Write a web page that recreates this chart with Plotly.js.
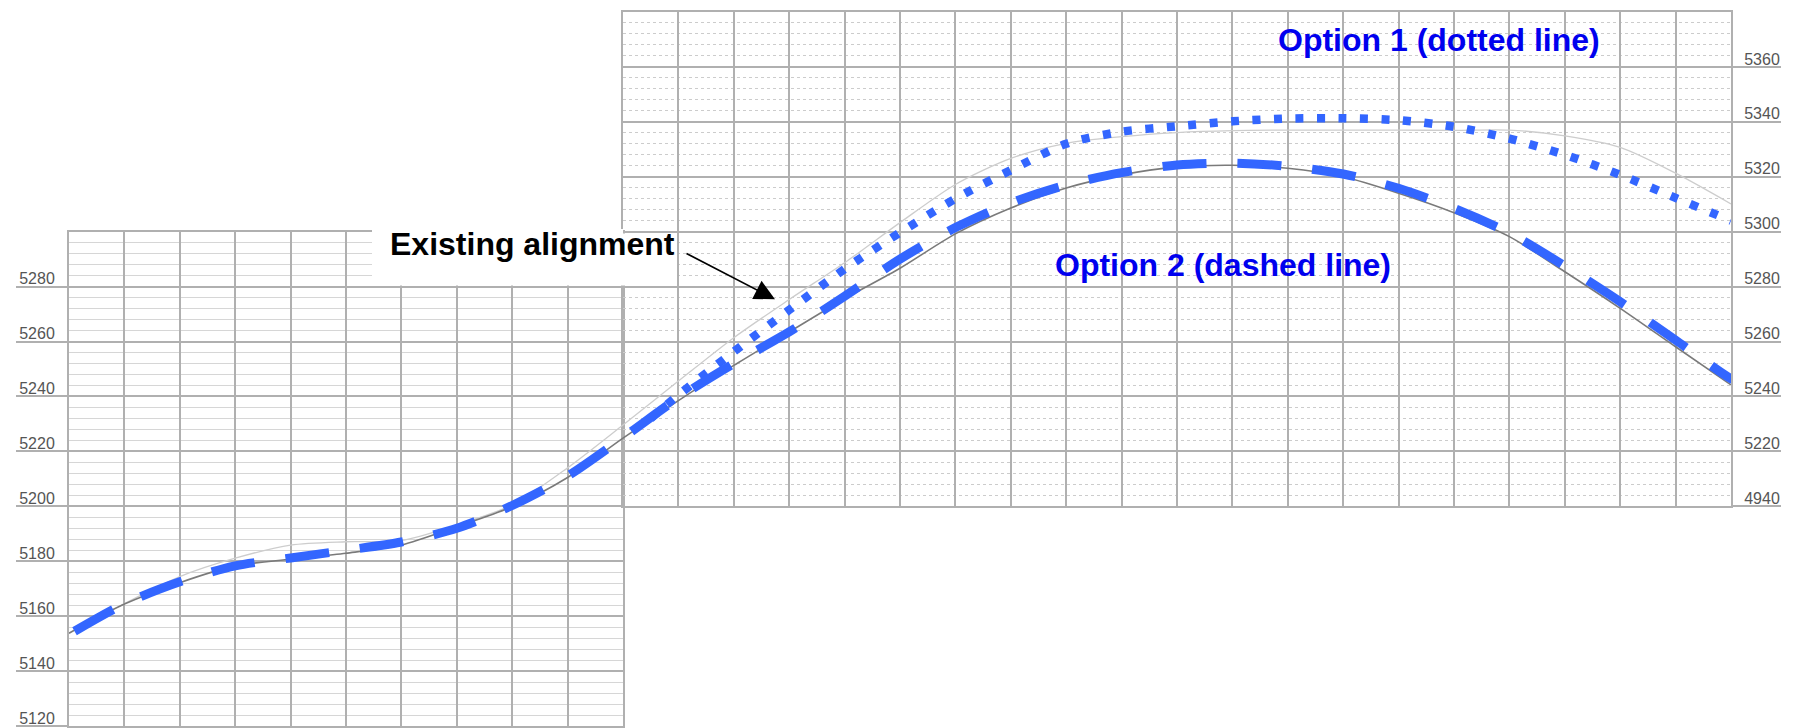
<!DOCTYPE html>
<html>
<head>
<meta charset="utf-8">
<script src="https://cdn.plot.ly/plotly-3.0.1.min.js"></script>
<style>
  html, body { margin: 0; padding: 0; background: #ffffff; }
  #chart { width: 1802px; height: 728px; }
</style>
</head>
<body>
<div id="chart"></div>
<script>
// ---- Data (station columns along the profile, elevations in feet) ----
var existingStations = [0,1,2,3,4,5,6,7,8,9,10,11,12,13,14,15,16,17,18,19,20,21,22,23,24,25,26,27,28,29,30];
var existingElev = [5153.8,5164.4,5172.2,5178.3,5180.7,5182.9,5185.9,5192.6,5199.9,5210.5,5224.8,5238.5,5251.3,5263.5,5275.6,5286.7,5299.2,5308.6,5315.9,5320.7,5323.5,5324.2,5323.1,5320,5314,5306.9,5298.2,5285.4,5272.1,5258.1,5244.2];

var groundStations = [0.9,2,3,4,5,6,7,8,9,10,11,12,13,14,15,16,17,18,19,20,21,22,23,24,25,26,27,28,29,30];
var groundElev = [5163.5,5174.4,5181.1,5185.9,5187.1,5187.5,5193.2,5200.5,5214,5229.6,5245.6,5261.4,5275.3,5288.7,5303.3,5317.2,5326.7,5332.2,5334.6,5336.1,5336.8,5337,5337,5337,5336.9,5337,5334.9,5330.7,5321.3,5310.1];

var option1Stations = [10.5,11,12,13,14,15,16,17,18,19,20,21,22,23,24,25,26,27,28,29,30];
var option1Elev = [5232,5240.5,5256.3,5271.5,5286.4,5299.7,5312,5322.4,5332,5336.4,5338.4,5340.2,5341.2,5341.3,5340.6,5338.2,5333.9,5328,5320.7,5312.3,5304];

var option2Stations = [0.1,1,2,3,4,5,6,7,8,9,10,11,12,13,14,15,16,17,18,19,20,21,22,23,24,25,26,27,28,29,30,30.15];
var option2Elev = [5154.5,5164.5,5172.5,5178.3,5181.2,5184,5187,5192,5200.3,5211,5225,5239.5,5252,5263.5,5276.5,5290,5301.5,5310.5,5317,5321.5,5324.3,5325,5323.8,5321,5315.8,5308.5,5299.5,5287.5,5274.5,5260.5,5246.5,5245.5];

var leftTickVals = [5120,5140,5160,5180,5200,5220,5240,5260,5280];
var leftTickText = ['5120','5140','5160','5180','5200','5220','5240','5260','5280'];
var rightTickVals = [5200,5220,5240,5260,5280,5300,5320,5340,5360];
var rightTickText = ['4940','5220','5240','5260','5280','5300','5320','5340','5360'];

var labelExisting = 'Existing alignment';
var labelOption1 = 'Option 1 (dotted line)';
var labelOption2 = 'Option 2 (dashed line)';

// ---- Layout helpers ----
var W = 1802, H = 728;
var M = {l: 69, r: 71, t: 12, b: 2};
var PW = W - M.l - M.r, PH = H - M.t - M.b;
function px(x) { return (x - M.l) / PW; }
function py(y) { return (H - M.b - y) / PH; }

var FONT = '"Liberation Sans", Arial, sans-serif';
var MAJOR = '#b0b0b0';
var MINOR = '#d6d6d6';

var traces = [
  // empty traces so that both grid sheets get drawn
  {x: [], y: [], xaxis: 'x', yaxis: 'y', type: 'scatter', mode: 'lines', hoverinfo: 'skip'},
  {x: [], y: [], xaxis: 'x2', yaxis: 'y2', type: 'scatter', mode: 'lines', hoverinfo: 'skip'},
  {x: groundStations, y: groundElev, xaxis: 'x3', yaxis: 'y3', mode: 'lines',
   line: {color: '#cdcdcd', width: 1.3, shape: 'spline', smoothing: 0.8}, hoverinfo: 'skip'},
  {x: existingStations, y: existingElev, xaxis: 'x3', yaxis: 'y3', mode: 'lines',
   line: {color: '#7a7a7a', width: 1.6, shape: 'spline', smoothing: 0.8}, hoverinfo: 'skip'},
  {x: option1Stations, y: option1Elev, xaxis: 'x3', yaxis: 'y3', mode: 'lines',
   line: {color: '#3366ff', width: 8.5, dash: '8px,13.5px', shape: 'spline', smoothing: 0.8}, hoverinfo: 'skip'},
  {x: option2Stations, y: option2Elev, xaxis: 'x3', yaxis: 'y3', mode: 'lines',
   line: {color: '#3366ff', width: 9, dash: '44px,31px', shape: 'spline', smoothing: 0.8}, hoverinfo: 'skip'}
];

var layout = {
  width: W, height: H,
  margin: M,
  paper_bgcolor: '#ffffff',
  plot_bgcolor: 'rgba(0,0,0,0)',
  showlegend: false,
  font: {family: FONT, color: '#555555', size: 16},
  // left sheet
  xaxis: {domain: [0, 1/3], range: [0, 10], anchor: 'y', tickmode: 'linear', tick0: 0, dtick: 1,
          showgrid: true, gridcolor: MAJOR, gridwidth: 2, showticklabels: false, ticks: '',
          zeroline: false, showline: true, mirror: true, linecolor: MAJOR, linewidth: 2, fixedrange: true},
  yaxis: {domain: [0, 180/260], range: [5120, 5300], anchor: 'x',
          tickmode: 'array', tickvals: leftTickVals, ticktext: leftTickText,
          showgrid: true, gridcolor: MAJOR, gridwidth: 2,
          ticks: 'outside', ticklen: 51, tickcolor: MAJOR, tickwidth: 2,
          ticklabelstandoff: -42, ticklabelshift: -8,
          tickfont: {family: FONT, size: 16, color: '#555555'},
          minor: {tickmode: 'linear', tick0: 5120, dtick: 4, showgrid: true, gridcolor: MINOR, gridwidth: 1, ticks: ''},
          zeroline: false, showline: true, mirror: true, linecolor: MAJOR, linewidth: 2, fixedrange: true},
  // right sheet
  xaxis2: {domain: [1/3, 1], range: [10, 30], anchor: 'y2', tickmode: 'linear', tick0: 10, dtick: 1,
           showgrid: true, gridcolor: MAJOR, gridwidth: 2, showticklabels: false, ticks: '',
           zeroline: false, showline: true, mirror: true, linecolor: MAJOR, linewidth: 2, fixedrange: true},
  yaxis2: {domain: [80/260, 1], range: [5200, 5380], anchor: 'x2', side: 'right',
           tickmode: 'array', tickvals: rightTickVals, ticktext: rightTickText,
           showgrid: true, gridcolor: MAJOR, gridwidth: 2,
           ticks: 'outside', ticklen: 48, tickcolor: MAJOR, tickwidth: 2,
           ticklabelstandoff: -40, ticklabelshift: -8,
           tickfont: {family: FONT, size: 16, color: '#555555'},
           minor: {tickmode: 'linear', tick0: 5200, dtick: 4, showgrid: true, gridcolor: '#cccccc', gridwidth: 1, griddash: 'dot', ticks: ''},
           zeroline: false, showline: true, mirror: true, linecolor: MAJOR, linewidth: 2, fixedrange: true},
  // overlay for the profile lines
  xaxis3: {domain: [0, 1], range: [0, 30], anchor: 'y3', visible: false, fixedrange: true},
  yaxis3: {domain: [0, 1], range: [5120, 5380], anchor: 'x3', visible: false, fixedrange: true},
  shapes: [
    {type: 'rect', xref: 'paper', yref: 'paper', x0: px(372), x1: px(623), y0: py(285.5), y1: py(229),
     fillcolor: '#ffffff', line: {width: 0}, layer: 'above'},
    {type: 'rect', xref: 'paper', yref: 'paper', x0: px(623), x1: px(677), y0: py(285.5), y1: py(233.5),
     fillcolor: '#ffffff', line: {width: 0}, layer: 'above'}
  ],
  annotations: [
    {xref: 'paper', yref: 'paper', x: px(532.5), y: py(244.5), text: '<b>' + labelExisting + '</b>',
     showarrow: false, xanchor: 'center', yanchor: 'middle',
     font: {family: FONT, size: 32, color: '#000000'}},
    {xref: 'paper', yref: 'paper', x: px(775), y: py(299.3), text: '', showarrow: true,
     ax: -90, ay: -46.6, arrowhead: 2, arrowsize: 2.4, arrowwidth: 1.7, arrowcolor: '#000000', standoff: 0},
    {xref: 'paper', yref: 'paper', x: px(1439), y: py(40.5), text: '<b>' + labelOption1 + '</b>',
     showarrow: false, xanchor: 'center', yanchor: 'middle',
     font: {family: FONT, size: 32, color: '#0000ee'}},
    {xref: 'paper', yref: 'paper', x: px(1222.5), y: py(264.7), text: '<b>' + labelOption2 + '</b>',
     showarrow: false, xanchor: 'center', yanchor: 'middle',
     font: {family: FONT, size: 32, color: '#0000ee'}}
  ]
};

Plotly.newPlot('chart', traces, layout, {staticPlot: true, displayModeBar: false});
</script>
</body>
</html>
